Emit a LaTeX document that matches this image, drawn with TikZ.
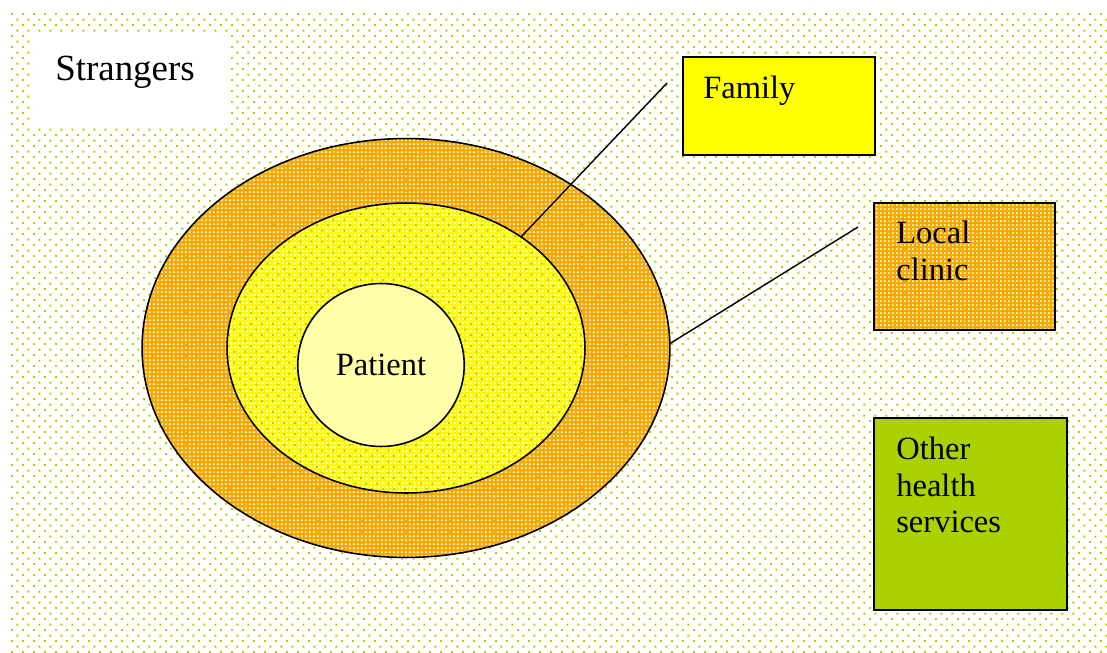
\documentclass[tikz,border=0pt]{standalone}
\usepackage{fontspec}
\setmainfont{Liberation Serif}
\usetikzlibrary{positioning,shapes.geometric,patterns.meta}
\definecolor{dot-green}{RGB}{168,212,0}
\definecolor{ring-orange}{RGB}{255,165,0}
\definecolor{ring-yellow}{RGB}{255,250,0}
\definecolor{pale-yellow}{RGB}{255,255,170}
\definecolor{fam-yellow}{RGB}{255,255,0}
\definecolor{other-green}{RGB}{170,210,0}

\tikzdeclarepattern{
  name=greendots, type=uncolored,
  bottom left={(0pt,0pt)}, top right={(6.2pt,6.2pt)},
  tile size={(6.2pt,6.2pt)},
  code={
    \fill (0pt,0pt) rectangle (1.1pt,1.1pt);
    \fill (3.1pt,3.1pt) rectangle (4.2pt,4.2pt);
  }
}
\tikzdeclarepattern{
  name=whitechecks, type=uncolored,
  bottom left={(0pt,0pt)}, top right={(2.3pt,2.3pt)},
  tile size={(2.3pt,2.3pt)},
  code={\fill (0pt,0pt) rectangle (1.1pt,1.1pt);}
}

\begin{document}
\begin{tikzpicture}[
          x=0.02cm, y=-0.02cm,
          textured/.style={
            postaction={pattern=whitechecks, pattern color=white},
            postaction={pattern=greendots, pattern color=dot-green},
            postaction={draw=black, line width=0.9pt}},
          ring/.style={ellipse, inner sep=0pt, textured},
          box/.style={
            rectangle, draw=black, line width=0.9pt, inner sep=0pt},
          txt/.style={
            inner sep=0pt, align=left,
            font=\fontsize{18.5}{20.6}\selectfont},
          link/.style={line width=0.8pt, black}
        ]
        \useasboundingbox (0,0) rectangle (1107,653);
        \fill[pattern=greendots, pattern color=dot-green]
          (10,10) rectangle (1107,653);

        \node[fill=white, inner sep=0pt, minimum width=3.9cm,
          minimum height=1.9cm, anchor=north west] (strbox) at (33,33) {};
        \node[inner sep=0pt, anchor=base west,
          font=\fontsize{21}{24}\selectfont] (strangers) at (55,80) {Strangers};

        \node[ring, fill=ring-orange, minimum width=10.56cm,
          minimum height=8.38cm] (outer) at (406,348) {};
        \node[ring, fill=ring-yellow, minimum width=7.16cm,
          minimum height=5.8cm] (mid) at (406,348) {};
        \node[ellipse, draw=black, line width=0.9pt, fill=pale-yellow,
          inner sep=0pt, minimum width=3.33cm, minimum height=3.26cm,
          txt] (patient) at (381,365) {Patient};

        \node[box, fill=fam-yellow, minimum width=3.84cm,
          minimum height=1.96cm] (family) at (779,106) {};
        \node[txt, anchor=base west] (familytxt) at (703,98) {Family};

        \node[rectangle, inner sep=0pt, fill=ring-orange, textured,
          minimum width=3.62cm, minimum height=2.54cm]
          (clinic) at (964.5,266.5) {};
        \node[txt, anchor=north west] (clinictxt) at (896,221)
          {Local\\clinic};

        \node[box, fill=other-green, minimum width=3.86cm,
          minimum height=3.84cm] (other) at (970.5,514) {};
        \node[txt, anchor=north west] (othertxt) at (896,437)
          {Other\\health\\services};

        \coordinate (famtip) at (667,83);
        \coordinate (clintip) at (858,227);
        \draw[link] (mid.44) -- (famtip);
        \draw[link] (outer.1) -- (clintip);
      \end{tikzpicture}
\end{document}
